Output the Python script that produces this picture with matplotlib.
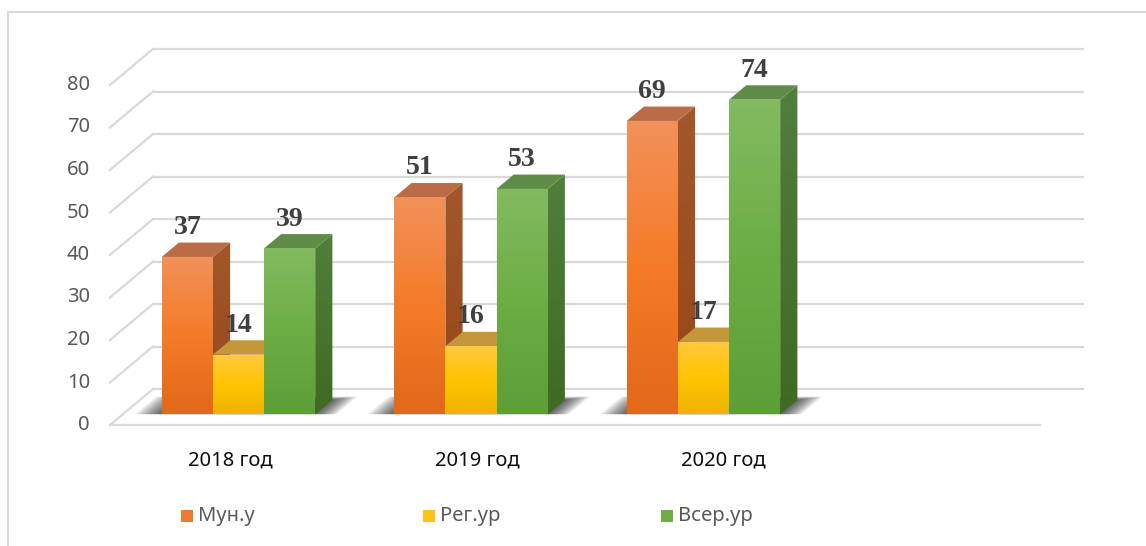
import numpy as np
import matplotlib
matplotlib.use("Agg")
import matplotlib.pyplot as plt
from matplotlib.patches import Polygon, Rectangle
from matplotlib.colors import LinearSegmentedColormap

# data
categories = ["2018 год", "2019 год", "2020 год"]
series_names = ["Мун.у", "Рег.ур", "Всер.ур"]
mun = [37, 51, 69]
reg = [14, 16, 17]
vser = [39, 53, 74]
yticks = [0, 10, 20, 30, 40, 50, 60, 70, 80]

# colours: front (bottom, mid, top), side (bottom, top), top face
front_cols = [["#E2681A", "#F47B28", "#F2915A"],
              ["#EDB400", "#FFC400", "#FFC93E"],
              ["#5E9E36", "#6CAD44", "#82BB60"]]
side_cols = [["#974616", "#A2582C"], ["#B08A1E", "#C39A3A"], ["#3E6A22", "#517F3C"]]
top_cols = ["#B96C45", "#C3973A", "#5F8D48"]
legend_cols = ["#EE7A30", "#FFC21A", "#70AD47"]

W, H = 1146, 546
fig = plt.figure(figsize=(W / 100, H / 100), dpi=100)
ax = fig.add_axes([0, 0, 1, 1])

# pixel geometry of the pseudo-3D box
X0, Y0 = 110, 425          # front-left corner of floor (px)
SLOT = 232.5               # px per category slot
UNIT = 4.25                # px per value unit
DXP, DYP = 43, 36          # depth offset (px)
DX, DV = DXP / SLOT, DYP / UNIT
NSLOT = 4


def P(c, v, d):
    return (c + d * DX, v + d * DV)


def grad_poly(verts, colors, z):
    poly = Polygon(verts, closed=True, facecolor="none", edgecolor="none", zorder=z)
    ax.add_patch(poly)
    xs = [p[0] for p in verts]
    ys = [p[1] for p in verts]
    cmap = LinearSegmentedColormap.from_list("g", colors)
    img = ax.imshow(np.linspace(0, 1, 200).reshape(-1, 1), cmap=cmap, origin="lower",
                    extent=(min(xs), max(xs), min(ys), max(ys)), aspect="auto",
                    zorder=z, interpolation="bilinear")
    img.set_clip_path(poly)


grid_c = "#D9D9D9"
# walls / grid
for v in yticks:
    a, b = P(0, v, 0), P(0, v, 1)
    ax.plot([a[0], b[0]], [a[1], b[1]], color=grid_c, lw=1.6, zorder=1)
    a, b = P(0, v, 1), P(NSLOT, v, 1)
    ax.plot([a[0], b[0]], [a[1], b[1]], color=grid_c, lw=1.6, zorder=1)
    ax.text(-20 / SLOT, v, str(v), ha="right", va="center", fontsize=14.5,
            color="#595959", family="Noto Sans")
a, b = P(0, 0, 0), P(NSLOT, 0, 0)
ax.plot([a[0], b[0]], [a[1], b[1]], color=grid_c, lw=1.6, zorder=1)

BW = 0.22
OFF = 0.167
D0, D1 = 0.3, 0.7
values = [mun, reg, vser]

for i in range(len(categories)):
    g0 = i + OFF
    g1 = g0 + 3 * BW
    # soft shadow on the floor
    for k in range(10):
        e = 0.005 + k * 0.012
        sh = [P(g0 - e, 0, D0), P(g1 + e * 0.8, 0, D0),
              P(g1 + e * 0.8, 0, D1 + k * 0.01), P(g0 - e, 0, D1 + k * 0.01)]
        ax.add_patch(Polygon(sh, closed=True, facecolor="black", edgecolor="none",
                             alpha=0.085, zorder=2))
    for j in range(3):
        v = values[j][i]
        c0 = g0 + j * BW
        c1 = c0 + BW
        front = [P(c0, 0, D0), P(c1, 0, D0), P(c1, v, D0), P(c0, v, D0)]
        side = [P(c1, 0, D0), P(c1, 0, D1), P(c1, v, D1), P(c1, v, D0)]
        top = [P(c0, v, D0), P(c1, v, D0), P(c1, v, D1), P(c0, v, D1)]
        z = 3 + j * 0.1
        grad_poly(side, side_cols[j], z)
        ax.add_patch(Polygon(top, closed=True, facecolor=top_cols[j], edgecolor="none", zorder=z))
        grad_poly(front, front_cols[j], z + 0.05)
        lx = (c0 + c1) / 2 + D0 * DX
        ax.text(lx, v + D1 * DV + 0.6, str(v), ha="center", va="bottom", fontsize=20,
                fontweight="bold", family="Liberation Serif", color="#404040", zorder=10)

# category labels
for i, name in enumerate(categories):
    ax.text(0.516 + i * 1.062, (Y0 - 460) / UNIT, name, ha="center", va="center",
            fontsize=14.5, color="#0D0D0D", family="Noto Sans")

# legend
leg_x = [181, 423, 661]
for j, name in enumerate(series_names):
    cx = (leg_x[j] - X0) / SLOT
    cy = (Y0 - 522) / UNIT
    ax.add_patch(Rectangle((cx, cy), 12 / SLOT, 12 / UNIT, facecolor=legend_cols[j],
                           edgecolor="none"))
    ax.text(cx + 17 / SLOT, cy + 6 / UNIT, name, ha="left", va="center", fontsize=14.5,
            color="#595959", family="Noto Sans")

# outer frame (left and top edges)
fx = (8 - X0) / SLOT
fy = (Y0 - 12) / UNIT
ax.plot([fx, fx], [fy, (Y0 - H) / UNIT], color=grid_c, lw=1.5)
ax.plot([fx, (W - X0) / SLOT], [fy, fy], color=grid_c, lw=1.5)

ax.set_xlim(-X0 / SLOT, (W - X0) / SLOT)
ax.set_ylim((Y0 - H) / UNIT, Y0 / UNIT)
ax.axis("off")
fig.savefig("out.png", dpi=100)
